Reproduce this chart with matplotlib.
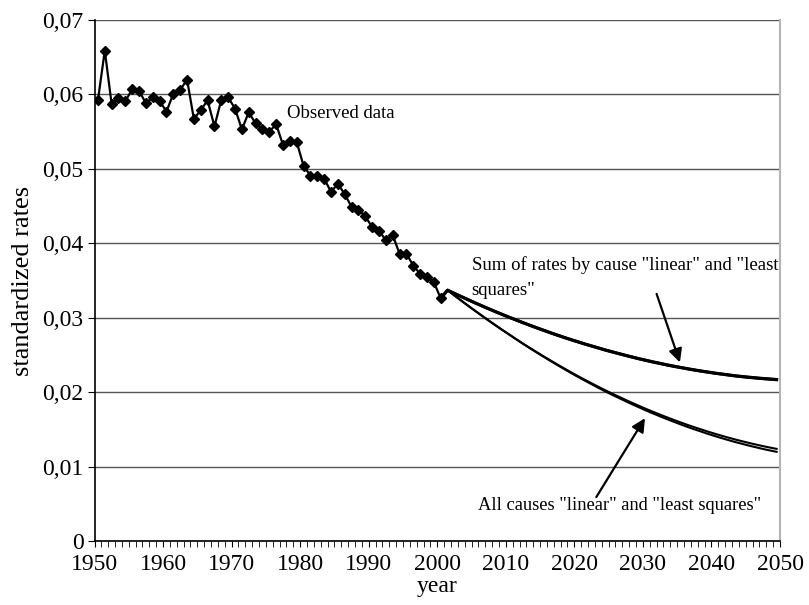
import numpy as np
import matplotlib.pyplot as plt
from matplotlib.ticker import MultipleLocator, FuncFormatter

plt.rcParams['font.family'] = ['Liberation Serif', 'DejaVu Serif']

# observed standardized rates 1950-2000
obs_years = np.arange(1950, 2001)
observed = [0.0592, 0.0659, 0.0587, 0.0595, 0.0591, 0.0607, 0.0605, 0.0588, 0.0596, 0.0591,
            0.0577, 0.0601, 0.0606, 0.0620, 0.0567, 0.0579, 0.0592, 0.0557, 0.0593, 0.0596,
            0.0581, 0.0553, 0.0576, 0.0561, 0.0554, 0.0550, 0.0560, 0.0532, 0.0538, 0.0536,
            0.0504, 0.0491, 0.0491, 0.0487, 0.0469, 0.0480, 0.0466, 0.0449, 0.0445, 0.0436,
            0.0422, 0.0417, 0.0404, 0.0411, 0.0386, 0.0386, 0.0370, 0.0359, 0.0355, 0.0348,
            0.0326]

# projections 2000-2049
proj_years = np.arange(2000, 2050)
sum_linear = [0.03260,
              0.03370, 0.03326, 0.03284, 0.03242, 0.03200, 0.03160, 0.03120, 0.03081, 0.03043, 0.03006,
              0.02970, 0.02934, 0.02899, 0.02865, 0.02832, 0.02799, 0.02767, 0.02736, 0.02706, 0.02677,
              0.02648, 0.02621, 0.02594, 0.02567, 0.02542, 0.02518, 0.02494, 0.02471, 0.02448, 0.02427,
              0.02406, 0.02387, 0.02367, 0.02349, 0.02332, 0.02315, 0.02299, 0.02284, 0.02270, 0.02256,
              0.02244, 0.02232, 0.02220, 0.02210, 0.02201, 0.02192, 0.02184, 0.02177, 0.02170]
sum_lsq = [0.03260,
           0.03370, 0.03326, 0.03284, 0.03242, 0.03200, 0.03160, 0.03120, 0.03081, 0.03043, 0.03006,
           0.02969, 0.02933, 0.02898, 0.02864, 0.02831, 0.02798, 0.02766, 0.02735, 0.02705, 0.02676,
           0.02647, 0.02620, 0.02593, 0.02566, 0.02541, 0.02517, 0.02492, 0.02469, 0.02446, 0.02425,
           0.02404, 0.02385, 0.02365, 0.02347, 0.02330, 0.02313, 0.02297, 0.02282, 0.02268, 0.02254,
           0.02242, 0.02229, 0.02217, 0.02207, 0.02198, 0.02189, 0.02181, 0.02174, 0.02167]
all_linear = [0.03260,
              0.03370, 0.03299, 0.03230, 0.03161, 0.03094, 0.03028, 0.02962, 0.02898, 0.02835, 0.02774,
              0.02713, 0.02653, 0.02595, 0.02538, 0.02482, 0.02427, 0.02373, 0.02320, 0.02268, 0.02217,
              0.02168, 0.02120, 0.02072, 0.02026, 0.01981, 0.01938, 0.01895, 0.01853, 0.01813, 0.01773,
              0.01735, 0.01698, 0.01662, 0.01627, 0.01593, 0.01560, 0.01529, 0.01499, 0.01469, 0.01441,
              0.01414, 0.01388, 0.01363, 0.01340, 0.01317, 0.01296, 0.01275, 0.01256, 0.01238]
all_lsq = [0.03260,
           0.03370, 0.03299, 0.03230, 0.03161, 0.03094, 0.03028, 0.02962, 0.02898, 0.02835, 0.02773,
           0.02711, 0.02650, 0.02591, 0.02533, 0.02476, 0.02420, 0.02365, 0.02311, 0.02258, 0.02206,
           0.02156, 0.02107, 0.02058, 0.02011, 0.01965, 0.01921, 0.01877, 0.01834, 0.01793, 0.01752,
           0.01713, 0.01675, 0.01638, 0.01602, 0.01567, 0.01533, 0.01501, 0.01470, 0.01439, 0.01410,
           0.01382, 0.01355, 0.01329, 0.01305, 0.01281, 0.01259, 0.01237, 0.01217, 0.01198]

fig = plt.figure(figsize=(8.09, 6.05), dpi=100)
ax = fig.add_axes([94.5 / 809, 1 - 541 / 605, (780 - 94.5) / 809, (541 - 20) / 605])

# excel-style category axis: points sit in the middle of each year slot
ax.plot(proj_years + 0.5, sum_linear, color='black', lw=2.2, zorder=3)
ax.plot(proj_years + 0.5, sum_lsq, color='black', lw=2.2, zorder=3)
ax.plot(proj_years + 0.5, all_linear, color='black', lw=1.5, zorder=3)
ax.plot(proj_years + 0.5, all_lsq, color='black', lw=1.5, zorder=3)
ax.plot(obs_years + 0.5, observed, color='black', lw=1.6, marker='D', ms=5.5, zorder=4)

ax.set_xlim(1950, 2050)
ax.set_ylim(0, 0.07)
ax.xaxis.set_major_locator(MultipleLocator(10))
ax.xaxis.set_minor_locator(MultipleLocator(1))
ax.yaxis.set_major_locator(MultipleLocator(0.01))
ax.yaxis.set_major_formatter(FuncFormatter(lambda v, p: '0' if abs(v) < 1e-9 else f'{v:.2f}'.replace('.', ',')))
ax.tick_params(axis='both', which='both', direction='out', labelsize=17, color='black')
ax.tick_params(axis='x', which='major', length=4, pad=5)
ax.tick_params(axis='x', which='minor', length=4)
ax.tick_params(axis='y', which='major', length=5, pad=3)

ax.grid(axis='y', color='#555555', lw=1.0)
ax.set_axisbelow(True)
ax.spines['top'].set_visible(False)
ax.spines['right'].set_color('#b5b5b5')
ax.spines['right'].set_linewidth(1.5)
ax.spines['left'].set_linewidth(1.2)
ax.spines['bottom'].set_linewidth(1.2)

ax.set_xlabel('year', fontsize=17, labelpad=1)
ax.set_ylabel('standardized rates', fontsize=19, labelpad=6)

ax.text(1978.1, 0.0574, 'Observed data', fontsize=13.5, va='center', ha='left')
ax.text(2005.0, 0.0354, 'Sum of rates by cause "linear" and "least\nsquares"',
        fontsize=13.5, va='center', ha='left', linespacing=1.6)
ax.text(2006.0, 0.0048, 'All causes "linear" and "least squares"', fontsize=13.3, va='center', ha='left')

arrow = dict(arrowstyle='-|>', color='black', lw=1.6, mutation_scale=20, shrinkA=0, shrinkB=0)
ax.annotate('', xy=(2035.4, 0.0240), xytext=(2032.0, 0.0332), arrowprops=arrow)
ax.annotate('', xy=(2030.3, 0.0165), xytext=(2023.2, 0.0059), arrowprops=arrow)

fig.savefig('out.png', dpi=100)
